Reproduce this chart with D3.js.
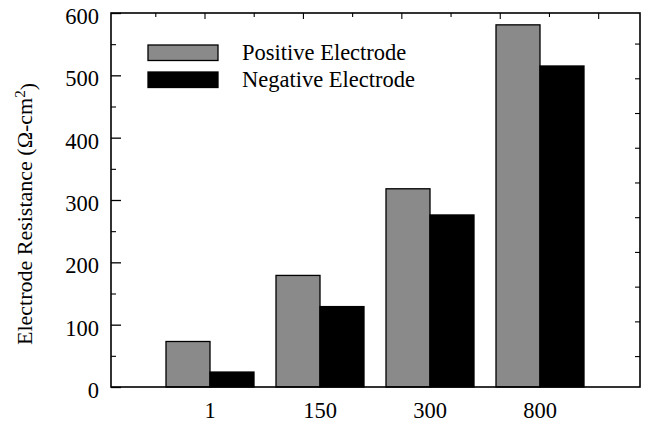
<!DOCTYPE html>
<html>
<head>
<meta charset="utf-8">
<script src="https://cdn.jsdelivr.net/npm/d3@7"></script>
<style>
html,body{margin:0;padding:0;background:#fff;overflow:hidden;}
svg{display:block;}
</style>
</head>
<body>
<svg id="chart" width="645" height="423" font-family="'Liberation Serif', 'DejaVu Serif', 'Times New Roman', serif"></svg>
<script>
const categories = ["1", "150", "300", "800"];
const seriesNames = ["Positive Electrode", "Negative Electrode"];
const positiveValues = [73, 179, 318, 581];
const negativeValues = [24, 129, 276, 515];
const yTicks = [0, 100, 200, 300, 400, 500, 600];
const yMinorTicks = [50, 150, 250, 350, 450, 550];

const colors = ["#8a8a8a", "#000000"];
const FONT = "'Liberation Serif', 'DejaVu Serif', 'Times New Roman', serif";
const svg = d3.select("#chart");
const L = 111, R = 640, T = 13, B = 387;

const y = d3.scaleLinear().domain([0, 600]).range([B, T]);
const x0 = d3.scaleBand().domain(categories).range([155, 595]).paddingInner(0.2).paddingOuter(0.1);
const x1 = d3.scaleBand().domain(seriesNames).range([0, x0.bandwidth()]);

const data = categories.map((c, i) => ({cat: c, vals: [
  {s: seriesNames[0], v: positiveValues[i]},
  {s: seriesNames[1], v: negativeValues[i]}
]}));

// bars
const g = svg.append("g");
g.selectAll("g.grp").data(data).join("g")
  .attr("class", "grp")
  .attr("transform", d => `translate(${x0(d.cat)},0)`)
  .selectAll("rect").data(d => d.vals).join("rect")
  .attr("x", d => x1(d.s))
  .attr("y", d => y(d.v))
  .attr("width", x1.bandwidth())
  .attr("height", d => y(0) - y(d.v))
  .attr("fill", (d, i) => colors[i])
  .attr("stroke", "#000")
  .attr("stroke-width", 1.3);

// frame
svg.append("rect").attr("x", L).attr("y", T).attr("width", R - L).attr("height", B - T)
  .attr("fill", "none").attr("stroke", "#000").attr("stroke-width", 1.6);

// left axis ticks (inward)
svg.append("g").attr("transform", `translate(${L},0)`)
  .call(d3.axisRight(y).tickValues(yTicks).tickSize(10).tickFormat(""))
  .call(s => s.select(".domain").remove())
  .call(s => s.selectAll("line").attr("stroke-width", 1.3));
svg.append("g").attr("transform", `translate(${L},0)`)
  .call(d3.axisRight(y).tickValues(yMinorTicks).tickSize(5).tickFormat(""))
  .call(s => s.select(".domain").remove())
  .call(s => s.selectAll("line").attr("stroke-width", 1.1));

// left tick labels
svg.append("g").selectAll("text").data(yTicks).join("text")
  .attr("x", 99).attr("y", d => y(d) + 3).attr("dy", "0.35em")
  .attr("text-anchor", "end").style("font-family", FONT).style("font-size", "22.5px")
  .text(d => d);

// top axis ticks (decorative secondary scale)
const xTop = d3.scaleLinear().domain([-0.9, 9.85]).range([L, R]);
svg.append("g").attr("transform", `translate(0,${T})`)
  .call(d3.axisBottom(xTop).tickValues(d3.range(0, 10)).tickSize(5).tickFormat(""))
  .call(s => s.select(".domain").remove())
  .call(s => s.selectAll("line").attr("stroke-width", 1.1)
     .attr("y2", d => d % 2 === 1 ? 6 : 4));

// right axis ticks
const yRight = d3.scaleLinear().domain([-0.89, 9.88]).range([B, T]);
svg.append("g").attr("transform", `translate(${R},0)`)
  .call(d3.axisLeft(yRight).tickValues(d3.range(0, 10)).tickSize(5).tickFormat(""))
  .call(s => s.select(".domain").remove())
  .call(s => s.selectAll("line").attr("stroke-width", 1.1));

// bottom category labels
svg.append("g").selectAll("text").data(categories).join("text")
  .attr("x", d => x0(d) + x0.bandwidth() / 2).attr("y", 410).attr("dy", "0.35em")
  .attr("text-anchor", "middle").style("font-family", FONT).style("font-size", "22.5px")
  .text(d => d);

// y label
const yl = svg.append("text")
  .attr("transform", "translate(32,214) rotate(-90)")
  .attr("text-anchor", "middle").style("font-family", FONT).style("font-size", "22px");
yl.append("tspan").text("Electrode Resistance (\u03A9-cm");
yl.append("tspan").attr("dy", "-0.45em").style("font-size", "15px").text("2");
yl.append("tspan").attr("dy", "0.45em").text(")");

// legend
const legend = svg.append("g");
const legY = [45, 72];
seriesNames.forEach((s, i) => {
  legend.append("rect").attr("x", 148).attr("y", legY[i]).attr("width", 70).attr("height", 15.5)
    .attr("fill", colors[i]).attr("stroke", "#000").attr("stroke-width", 1.3);
  legend.append("text").attr("x", 242).attr("y", legY[i] + 15)
    .style("font-family", FONT).style("font-size", "22.5px").text(s);
});
</script>
</body>
</html>
